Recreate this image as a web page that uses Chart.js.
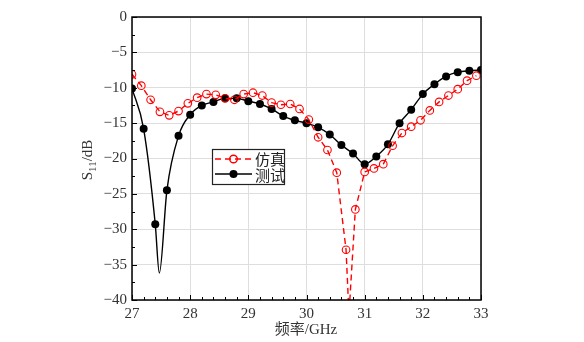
<!DOCTYPE html>
<html>
<head>
<meta charset="utf-8">
<script src="https://cdn.jsdelivr.net/npm/chart.js@4"></script>
<style>
  html, body { margin: 0; padding: 0; background: #fff; }
  #wrap { width: 584px; height: 342px; }
</style>
</head>
<body>
<div id="wrap"><canvas id="myChart" width="584" height="342"></canvas></div>
<script>
// measured (测试), 0.2 GHz step
var measFreq = [27.0, 27.2, 27.4, 27.6, 27.8, 28.0, 28.2, 28.4, 28.6, 28.8, 29.0,
                29.2, 29.4, 29.6, 29.8, 30.0, 30.2, 30.4, 30.6, 30.8, 31.0,
                31.2, 31.4, 31.6, 31.8, 32.0, 32.2, 32.4, 32.6, 32.8, 33.0];
var measS11 = [-10.1, -15.8, -29.3, -24.5, -16.8, -13.8, -12.5, -12.0, -11.5, -11.5, -11.9,
               -12.3, -13.0, -14.0, -14.6, -15.0, -15.6, -16.6, -18.1, -19.3, -20.8,
               -19.7, -18.0, -15.0, -13.1, -10.9, -9.5, -8.4, -7.8, -7.6, -7.5];
// bottom of the measured resonance (line only, no marker)
var measDip = [27.47, -36.2];

// simulated (仿真), 0.16 GHz step
var simFreq = [27.00, 27.16, 27.32, 27.48, 27.64, 27.80, 27.96, 28.12, 28.28, 28.44,
               28.60, 28.76, 28.92, 29.08, 29.24, 29.40, 29.56, 29.72, 29.88, 30.04,
               30.20, 30.36, 30.52, 30.68, 30.84, 31.00, 31.16, 31.32, 31.48, 31.64,
               31.80, 31.96, 32.12, 32.28, 32.44, 32.60, 32.76, 32.92];
var simS11 = [-8.1, -9.7, -11.7, -13.4, -13.9, -13.3, -12.2, -11.4, -10.9, -11.0,
              -11.5, -11.7, -10.9, -10.7, -11.1, -12.1, -12.4, -12.3, -13.0, -14.5,
              -17.0, -18.8, -22.0, -32.9, -27.2, -21.9, -21.4, -20.8, -18.2, -16.4,
              -15.5, -14.6, -13.2, -12.0, -11.1, -10.2, -9.0, -8.3];
// simulated dip goes below the axis floor
var simDip = [30.73, -42];

var xTicks = [27, 28, 29, 30, 31, 32, 33];
var yTicks = [0, -5, -10, -15, -20, -25, -30, -35, -40];

var serif = "'Liberation Serif', 'DejaVu Serif', 'Noto Sans CJK SC', serif";

function withDip(xs, ys, dip) {
    var pts = xs.map(function(x, i) { return { x: x, y: ys[i], mark: true }; });
    pts.push({ x: dip[0], y: dip[1], mark: false });
    pts.sort(function(a, b) { return a.x - b.x; });
    return pts;
}

var frame = {
    id: 'frame',
    afterDraw: function(chart) {
        var ctx = chart.ctx, a = chart.chartArea;
        var xs = chart.scales.x, ys = chart.scales.y;
        ctx.save();
        ctx.strokeStyle = '#000';
        ctx.lineWidth = 1;
        // inward ticks, bottom and left
        for (var i = 0; i <= 30; i++) {
            var v = 27 + i * 0.2;
            var px = Math.round(xs.getPixelForValue(v)) + 0.5;
            var len = (i % 5 === 0) ? 5 : 3;
            ctx.beginPath(); ctx.moveTo(px, a.bottom); ctx.lineTo(px, a.bottom - len); ctx.stroke();
        }
        for (var j = 0; j <= 16; j++) {
            var yv = -j * 2.5;
            var py = Math.round(ys.getPixelForValue(yv)) + 0.5;
            var l2 = (j % 2 === 0) ? 5 : 3;
            ctx.beginPath(); ctx.moveTo(a.left, py); ctx.lineTo(a.left + l2, py); ctx.stroke();
        }
        // box
        ctx.lineWidth = 1.5;
        ctx.strokeRect(a.left, a.top, a.right - a.left, a.bottom - a.top);

        // legend
        var lx = 212.5, ly = 149.5, lw = 72, lh = 35;
        ctx.fillStyle = '#fff';
        ctx.fillRect(lx, ly, lw, lh);
        ctx.lineWidth = 1.2;
        ctx.strokeStyle = '#222';
        ctx.strokeRect(lx, ly, lw, lh);
        var r1 = 159, r2 = 174;
        ctx.strokeStyle = '#ff0000';
        ctx.setLineDash([6, 4]);
        ctx.lineWidth = 1.4;
        ctx.beginPath(); ctx.moveTo(215, r1); ctx.lineTo(252, r1); ctx.stroke();
        ctx.setLineDash([]);
        ctx.beginPath(); ctx.arc(233.5, r1, 3.8, 0, Math.PI * 2); ctx.stroke();
        ctx.strokeStyle = '#000';
        ctx.beginPath(); ctx.moveTo(215, r2); ctx.lineTo(252, r2); ctx.stroke();
        ctx.fillStyle = '#000';
        ctx.beginPath(); ctx.arc(233.5, r2, 4, 0, Math.PI * 2); ctx.fill();
        ctx.font = "15px 'Noto Sans CJK SC', sans-serif";
        ctx.textBaseline = 'middle';
        ctx.textAlign = 'left';
        ctx.fillStyle = '#222';
        ctx.fillText('仿真', 255, r1);
        ctx.fillText('测试', 255, r2 + 1);

        // x title
        ctx.font = '15px ' + serif;
        ctx.textAlign = 'center';
        ctx.fillStyle = '#333';
        ctx.fillText('频率/GHz', 306, 330);

        // y title with subscript
        ctx.translate(88, 160);
        ctx.rotate(-Math.PI / 2);
        var big = '15px ' + serif, small = '11px ' + serif;
        ctx.font = big; var w1 = ctx.measureText('S').width, w3 = ctx.measureText('/dB').width;
        ctx.font = small; var w2 = ctx.measureText('11').width;
        var sx = -(w1 + w2 + w3) / 2;
        ctx.textAlign = 'left';
        ctx.font = big; ctx.fillText('S', sx, 0);
        ctx.font = small; ctx.fillText('11', sx + w1, 5);
        ctx.font = big; ctx.fillText('/dB', sx + w1 + w2, 0);
        ctx.restore();
    }
};

var ctx = document.getElementById('myChart').getContext('2d');
var myChart = new Chart(ctx, {
    type: 'line',
    data: {
        datasets: [{
            label: '仿真',
            data: withDip(simFreq, simS11, simDip),
            borderColor: '#ff0000',
            borderWidth: 1.4,
            borderDash: [6, 4],
            backgroundColor: 'rgba(0,0,0,0)',
            pointBackgroundColor: 'rgba(0,0,0,0)',
            pointBorderColor: '#ff0000',
            pointBorderWidth: 1.1,
            pointRadius: function(c) { return c.raw && c.raw.mark ? 3.8 : 0; },
            tension: 0
        }, {
            label: '测试',
            data: withDip(measFreq, measS11, measDip),
            borderColor: '#000',
            borderWidth: 1.4,
            backgroundColor: '#000',
            pointBackgroundColor: '#000',
            pointBorderColor: '#000',
            pointBorderWidth: 0,
            pointRadius: function(c) { return c.raw && c.raw.mark ? 4 : 0; },
            cubicInterpolationMode: 'monotone'
        }]
    },
    options: {
        responsive: false,
        animation: false,
        layout: { padding: { left: 0, right: 103, top: 17, bottom: 0 } },
        plugins: {
            legend: { display: false },
            tooltip: { enabled: false }
        },
        scales: {
            x: {
                type: 'linear',
                min: 27, max: 33,
                afterFit: function(s) { s.height = 42; },
                afterBuildTicks: function(s) { s.ticks = xTicks.map(function(v) { return { value: v }; }); },
                grid: { color: '#dedede', lineWidth: 1, drawTicks: false },
                border: { display: false },
                ticks: { padding: 5, color: '#333', font: { family: serif, size: 15 } }
            },
            y: {
                min: -40, max: 0,
                afterFit: function(s) { s.width = 132; },
                afterBuildTicks: function(s) { s.ticks = yTicks.map(function(v) { return { value: v }; }); },
                grid: { color: '#dedede', lineWidth: 1, drawTicks: false },
                border: { display: false },
                ticks: {
                    padding: 5, color: '#333', font: { family: serif, size: 15 },
                    callback: function(v) { return String(v).replace('-', '\u2212'); }
                }
            }
        }
    },
    plugins: [frame]
});
</script>
</body>
</html>
